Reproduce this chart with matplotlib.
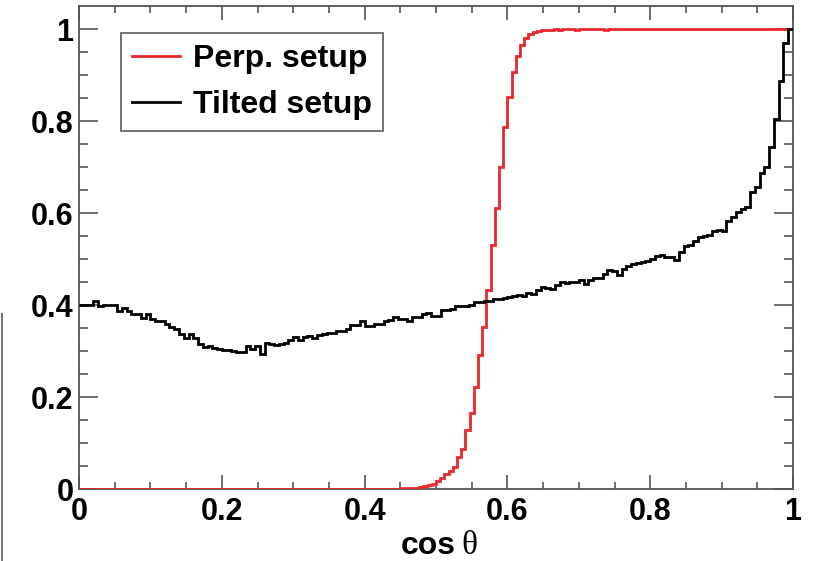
import numpy as np
import matplotlib.pyplot as plt
from matplotlib.lines import Line2D

plt.rcParams["font.family"] = ["Liberation Sans", "DejaVu Sans"]
plt.rcParams["font.weight"] = "bold"
plt.rcParams["font.size"] = 22

# tilted setup, 150 bins in cos(theta)
tilted = [
    0.401, 0.401, 0.401, 0.408, 0.397, 0.400, 0.400, 0.400, 0.387, 0.393,
    0.388, 0.381, 0.381, 0.372, 0.380, 0.369, 0.366, 0.365, 0.358, 0.352,
    0.347, 0.337, 0.329, 0.336, 0.328, 0.315, 0.308, 0.310, 0.306, 0.304,
    0.303, 0.302, 0.300, 0.297, 0.298, 0.310, 0.304, 0.310, 0.294, 0.317,
    0.315, 0.313, 0.315, 0.318, 0.324, 0.331, 0.325, 0.330, 0.332, 0.328,
    0.335, 0.337, 0.339, 0.340, 0.343, 0.343, 0.348, 0.356, 0.356, 0.366,
    0.354, 0.355, 0.359, 0.359, 0.365, 0.367, 0.374, 0.369, 0.369, 0.366,
    0.375, 0.375, 0.381, 0.382, 0.377, 0.376, 0.389, 0.390, 0.391, 0.397,
    0.398, 0.398, 0.401, 0.407, 0.407, 0.409, 0.409, 0.412, 0.414, 0.416,
    0.418, 0.419, 0.422, 0.419, 0.427, 0.425, 0.432, 0.440, 0.437, 0.435,
    0.444, 0.450, 0.448, 0.450, 0.451, 0.455, 0.445, 0.454, 0.458, 0.458,
    0.468, 0.476, 0.473, 0.465, 0.479, 0.484, 0.490, 0.492, 0.494, 0.496,
    0.500, 0.507, 0.508, 0.505, 0.505, 0.498, 0.516, 0.529, 0.530, 0.540,
    0.547, 0.550, 0.553, 0.561, 0.564, 0.560, 0.583, 0.591, 0.602, 0.609,
    0.612, 0.646, 0.657, 0.688, 0.699, 0.744, 0.804, 0.886, 0.969, 1.000,
]

# perpendicular setup, 170 bins in cos(theta)
perp = [
    0.0, 0.0, 0.0, 0.0, 0.0, 0.0, 0.0, 0.0, 0.0, 0.0,
    0.0, 0.0, 0.0, 0.0, 0.0, 0.0, 0.0, 0.0, 0.0, 0.0,
    0.0, 0.0, 0.0, 0.0, 0.0, 0.0, 0.0, 0.0, 0.0, 0.0,
    0.0, 0.0, 0.0, 0.0, 0.0, 0.0, 0.0, 0.0, 0.0, 0.0,
    0.0, 0.0, 0.0, 0.0, 0.0, 0.0, 0.0, 0.0, 0.0, 0.0,
    0.0, 0.0, 0.0, 0.0, 0.0, 0.0, 0.0, 0.0, 0.0, 0.0,
    0.0, 0.0, 0.0, 0.0, 0.0, 0.0, 0.0, 0.0, 0.0, 0.0,
    0.0, 0.0, 0.0, 0.0, 0.0,
    0.001, 0.001, 0.002, 0.002, 0.003, 0.003, 0.004, 0.006, 0.008, 0.012,
    0.017, 0.023, 0.033, 0.040, 0.048, 0.070, 0.088, 0.128, 0.165, 0.222,
    0.291, 0.353, 0.433, 0.530, 0.610, 0.701, 0.788, 0.853, 0.907, 0.941,
    0.965, 0.980, 0.990, 0.994, 0.996, 0.997, 0.998,
    0.998, 0.999, 0.998, 0.999, 0.999, 0.999, 0.998, 0.999, 0.999, 1.000,
    0.999, 0.999, 0.999, 0.998, 0.999, 0.999, 1.000, 0.999, 0.999, 0.999,
    0.999, 1.000, 0.999, 0.999, 0.999, 1.000, 0.999, 1.000, 0.999, 0.999,
    1.000, 0.999, 1.000, 1.000, 0.999, 1.000, 1.000, 0.999, 1.000, 1.000,
    1.000, 1.000, 0.999, 1.000, 1.000, 1.000, 1.000, 1.000, 1.000, 1.000,
    1.000, 1.000, 1.000, 1.000, 1.000, 1.000, 1.000, 1.000,
]

labels = ["Perp. setup", "Tilted setup"]
red = "#e8282b"

fig = plt.figure(figsize=(8.13, 5.61), dpi=100)
ax = fig.add_axes([0.0972, 0.1283, 0.8782, 0.861])

ax.stairs(perp, np.linspace(0, 1, len(perp) + 1), color=red, lw=2.0, baseline=None, zorder=3)
ax.stairs(tilted, np.linspace(0, 1, len(tilted) + 1), color="k", lw=2.0, baseline=None, zorder=4)

ax.set_xlim(0, 1)
ax.set_ylim(0, 1.05)
ax.set_xticks([0, 0.2, 0.4, 0.6, 0.8, 1])
ax.set_xticklabels(["0", "0.2", "0.4", "0.6", "0.8", "1"])
ax.set_yticks([0, 0.2, 0.4, 0.6, 0.8, 1])
ax.set_yticklabels(["0", "0.2", "0.4", "0.6", "0.8", "1"])
ax.set_xticks(np.arange(0, 1.001, 0.05), minor=True)
ax.set_yticks(np.arange(0, 1.05, 0.05), minor=True)

for s in ax.spines.values():
    s.set_color("#555555")
    s.set_linewidth(1.3)
ax.tick_params(axis="both", which="both", direction="in", top=True, right=True,
               colors="#555555", labelcolor="k", width=1.2)
ax.tick_params(axis="y", which="major", length=13.5, pad=4)
ax.tick_params(axis="y", which="minor", length=6.5)
ax.tick_params(axis="x", which="major", length=10, pad=6)
ax.tick_params(axis="x", which="minor", length=5)

# x title: bold "cos" plus a serif theta, as in the ROOT original
fig.text(0.561, 0.012, "cos", ha="right", va="baseline", fontsize=23, fontweight="bold")
fig.text(0.567, 0.012, "θ", ha="left", va="baseline", fontsize=24,
         fontweight="normal", family=["Liberation Serif", "DejaVu Serif"])

handles = [Line2D([], [], color=red, lw=2.0), Line2D([], [], color="k", lw=2.0)]
leg = ax.legend(handles, labels, loc="upper left", bbox_to_anchor=(0.0588, 0.944),
                fontsize=23, frameon=True, fancybox=False, borderaxespad=0,
                borderpad=0.35, handlelength=1.5, handletextpad=0.4, labelspacing=0.5)
leg.get_frame().set_edgecolor("#333333")
leg.get_frame().set_linewidth(1.2)

# grey bar at the left edge of the original screenshot
fig.add_artist(Line2D([0.003, 0.003], [0.0, 0.44], color="#777777", lw=1.5))

fig.savefig("out.png", dpi=100)
